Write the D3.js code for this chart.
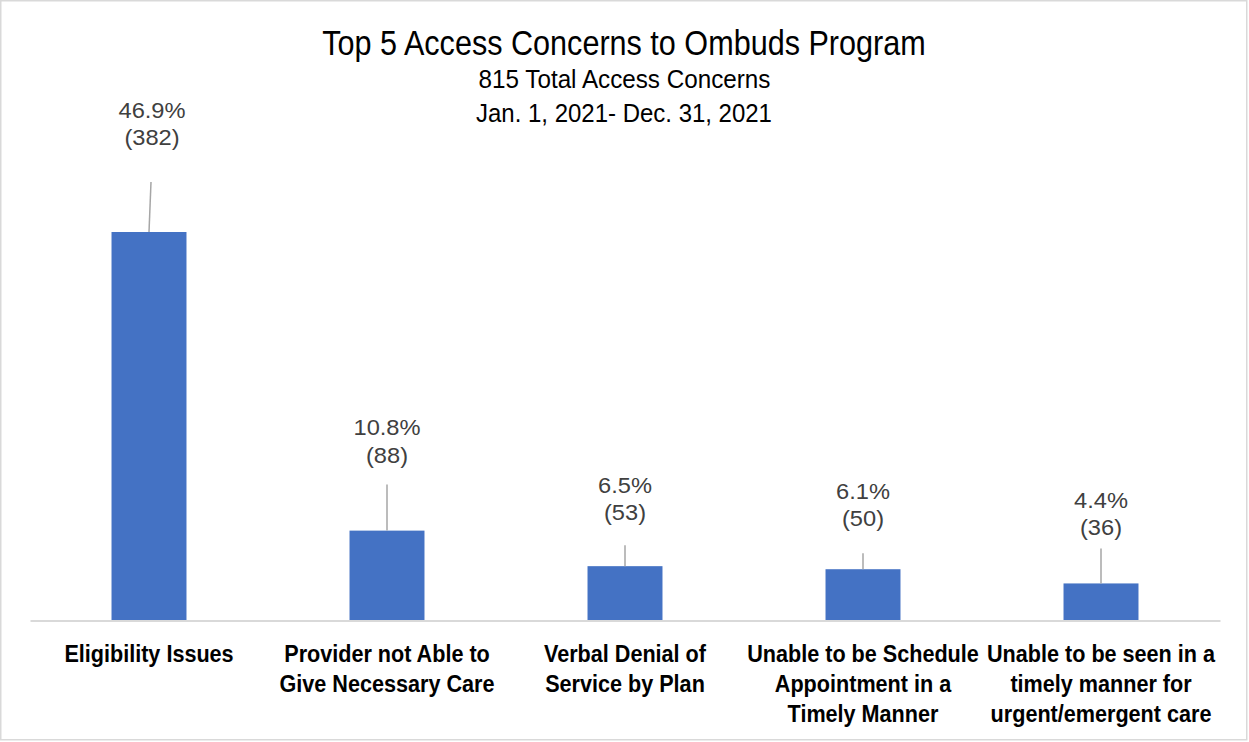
<!DOCTYPE html>
<html><head><meta charset="utf-8">
<script src="https://cdn.jsdelivr.net/npm/d3@7"></script>
<style>
html,body{margin:0;padding:0;background:#fff;}
svg{display:block;}
</style></head>
<body>
<script>
const categories = [
  ["Eligibility Issues"],
  ["Provider not Able to", "Give Necessary Care"],
  ["Verbal Denial of", "Service by Plan"],
  ["Unable to be Schedule", "Appointment in a", "Timely Manner"],
  ["Unable to be seen in a", "timely manner for", "urgent/emergent care"]
];
const counts = [382, 88, 53, 50, 36];
const percents = ["46.9%", "10.8%", "6.5%", "6.1%", "4.4%"];
const titleLines = ["Top 5 Access Concerns to Ombuds Program", "815 Total Access Concerns", "Jan. 1, 2021- Dec. 31, 2021"];
// label layout (px above bar top): baseline of second label line, length of leader line
const labelLift = [87, 68, 46, 43, 48];
const leaderLen = [50, 46, 21, 16, 35];

const W = 1249, H = 742;
const svg = d3.select("body").append("svg").attr("width", W).attr("height", H);
svg.append("rect").attr("x", 0.75).attr("y", 0.75).attr("width", W - 3).attr("height", H - 3)
  .attr("fill", "#fff").attr("stroke", "#d9d9d9").attr("stroke-width", 1.5);

const baseY = 620;
const x = d3.scaleBand().domain(d3.range(categories.length)).range([30, 1220]).paddingInner(0.685).paddingOuter(0.3425);
const y = d3.scaleLinear().domain([0, 400]).range([baseY, baseY - 400 * 388 / 382]);

const font = "'Liberation Sans',Arial,sans-serif";

function stext(g, cx, cy, sx, t) {
  return g.append("text").attr("transform", `translate(${cx},${cy}) scale(${sx},1)`).text(t);
}

// title
const tt = svg.append("g").attr("font-family", font).attr("text-anchor", "middle").attr("fill", "#000");
stext(tt, 624, 55, 0.874, titleLines[0]).attr("font-size", 35);
stext(tt, 624.5, 88.3, 0.915, titleLines[1]).attr("font-size", 26.5);
stext(tt, 624, 121.7, 0.905, titleLines[2]).attr("font-size", 26.5);

// bars
svg.append("g").selectAll("rect").data(counts).join("rect")
  .attr("x", (d, i) => x(i)).attr("width", x.bandwidth())
  .attr("y", d => y(d)).attr("height", d => y(0) - y(d))
  .attr("fill", "#4472c4");

// axis line
const ax = svg.append("g").attr("transform", `translate(0,${baseY + 0.5})`)
  .call(d3.axisBottom(x).tickSize(0).tickFormat(""));
ax.select(".domain").attr("stroke", "#d9d9d9").attr("stroke-width", 2);

// leader lines
svg.append("g").selectAll("line").data(counts).join("line")
  .attr("x1", (d, i) => x(i) + x.bandwidth() / 2).attr("x2", (d, i) => x(i) + x.bandwidth() / 2 + (i === 0 ? 2 : 0))
  .attr("y1", d => y(d)).attr("y2", (d, i) => y(d) - leaderLen[i])
  .attr("stroke", "#a6a6a6").attr("stroke-width", 1.5);

// data labels
const lg = svg.append("g").attr("font-family", font).attr("font-size", 21.5).attr("fill", "#404040").attr("text-anchor", "middle");
counts.forEach((d, i) => {
  const cx = x(i) + x.bandwidth() / 2 + (i === 0 ? 3 : 0);
  const by = y(d) - labelLift[i];
  stext(lg, cx, by - 27.5, 1.1, percents[i]);
  stext(lg, cx, by, 1.1, "(" + d + ")");
});

// category labels
const cg = svg.append("g").attr("font-family", font).attr("font-weight", "bold").attr("font-size", 24.7).attr("fill", "#000").attr("text-anchor", "middle");
categories.forEach((lines, i) => {
  const cx = x(i) + x.bandwidth() / 2;
  lines.forEach((t, j) => {
    stext(cg, cx, 662 + j * 30, 0.875, t);
  });
});
</script>
</body></html>
